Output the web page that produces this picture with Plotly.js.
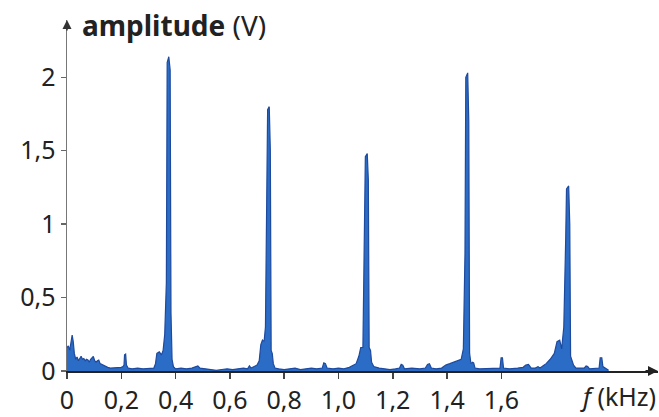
<!DOCTYPE html>
<html><head><meta charset="utf-8">
<script src="https://cdn.plot.ly/plotly-3.0.1.min.js"></script>
<style>html,body{margin:0;padding:0;background:#fff}#c{width:659px;height:417px}</style>
</head><body><div id="c"></div>
<script>
// frequency (kHz)
const freq = [
0.000,0.005,0.010,0.015,0.019,0.023,0.027,0.032,0.037,0.042,0.047,0.052,0.057,0.062,0.067,0.072,0.077,0.082,0.087,0.092,0.097,0.102,0.107,0.112,0.117,0.122,0.128,0.133,0.140,0.150,0.160,0.170,0.180,0.190,0.200,0.206,0.210,0.212,0.216,0.219,0.225,0.240,0.260,0.280,0.300,0.320,0.326,0.331,0.340,0.348,0.354,0.360,0.366,0.369,0.375,0.380,0.383,0.387,0.392,0.400,
0.420,0.440,0.460,0.475,0.482,0.490,0.510,0.530,0.550,0.570,0.590,0.610,0.630,0.650,0.665,0.672,0.678,0.690,0.700,0.708,0.714,0.720,0.726,0.731,0.736,0.739,0.745,0.749,0.752,0.756,0.760,0.766,0.780,0.800,0.820,0.840,0.860,0.880,0.900,0.920,0.940,0.946,0.952,0.958,0.980,1.000,1.020,1.040,1.055,1.065,1.075,1.082,1.090,1.095,1.099,1.106,1.110,1.113,1.118,1.122,1.130,1.150,1.170,1.190,1.210,1.225,1.231,1.237,1.243,1.270,1.300,1.320,1.328,1.335,1.342,1.360,1.380,1.395,1.410,1.425,1.440,1.452,1.460,1.466,1.469,1.476,1.480,1.483,1.488,1.494,1.498,1.503,1.520,1.550,1.580,1.595,1.599,1.604,1.608,1.630,1.660,1.680,1.690,1.700,1.710,1.725,1.735,1.742,1.750,1.765,1.780,1.795,1.805,1.815,1.822,1.830,1.837,1.840,1.848,1.852,1.855,1.860,1.866,1.875,1.890,1.905,1.912,1.918,1.925,1.945,1.960,1.964,1.970,1.974,1.985,1.995
];
// amplitude (V)
const amp = [
0.16,0.17,0.14,0.22,0.245,0.20,0.12,0.08,0.095,0.07,0.09,0.10,0.08,0.085,0.07,0.08,0.075,0.06,0.08,0.09,0.10,0.07,0.06,0.07,0.075,0.05,0.045,0.04,0.03,0.025,0.02,0.02,0.025,0.02,0.025,0.03,0.04,0.11,0.115,0.04,0.02,0.015,0.02,0.015,0.02,0.02,0.05,0.12,0.13,0.11,0.14,0.25,0.6,2.10,2.14,2.05,0.4,0.08,0.03,0.015,
0.02,0.015,0.02,0.03,0.035,0.02,0.015,0.01,0.005,0.01,0.015,0.01,0.015,0.02,0.015,0.035,0.02,0.03,0.04,0.07,0.18,0.21,0.20,0.30,1.0,1.78,1.80,1.5,0.14,0.12,0.05,0.02,0.015,0.01,0.015,0.02,0.01,0.015,0.02,0.015,0.02,0.055,0.05,0.02,0.015,0.02,0.015,0.025,0.04,0.05,0.10,0.16,0.16,1.0,1.46,1.48,1.3,0.16,0.14,0.06,0.03,0.02,0.015,0.01,0.015,0.02,0.045,0.04,0.015,0.02,0.015,0.02,0.045,0.05,0.02,0.015,0.02,0.04,0.05,0.06,0.075,0.08,0.15,0.8,2.00,2.03,1.7,0.12,0.05,0.06,0.055,0.02,0.015,0.015,0.02,0.02,0.09,0.09,0.02,0.015,0.02,0.025,0.04,0.045,0.02,0.02,0.03,0.02,0.03,0.05,0.08,0.12,0.20,0.21,0.15,0.30,0.9,1.24,1.26,1.0,0.10,0.07,0.04,0.02,0.02,0.02,0.035,0.03,0.015,0.015,0.02,0.09,0.09,0.03,0.015,0.005
];
const xTickVals = [0,0.2,0.4,0.6,0.8,1.0,1.2,1.4,1.6];
const xTickText = ["0","0,2","0,4","0,6","0,8","1,0","1,2","1,4","1,6"];
const yTickVals = [0,0.5,1,1.5,2];
const yTickText = ["0","0,5","1","1,5","2"];

const font = "Noto Sans, Open Sans, DejaVu Sans, sans-serif";
const trace = {
  x: freq, y: amp, type: 'scatter', mode: 'lines',
  fill: 'tozeroy', fillcolor: '#2b6cc6',
  line: {color: '#1e4a9e', width: 1.2},
  hoverinfo: 'skip'
};
const layout = {
  width: 659, height: 417,
  margin: {l: 67, r: 1, t: 20, b: 46},
  paper_bgcolor: '#fff', plot_bgcolor: '#fff',
  showlegend: false,
  font: {family: font, color: '#222', size: 25},
  xaxis: {
    range: [0, 2.177], showgrid: false, zeroline: false,
    showline: true, linecolor: '#222', linewidth: 2,
    ticks: 'outside', ticklen: 6, tickcolor: '#444', tickwidth: 1.5,
    tickvals: xTickVals, ticktext: xTickText,
    tickfont: {family: font, size: 25, color: '#222'}
  },
  yaxis: {
    range: [0, 2.39], showgrid: false, zeroline: false,
    showline: true, linecolor: '#777', linewidth: 1.5,
    ticks: 'outside', ticklen: 5, tickcolor: '#666', tickwidth: 1.5,
    tickvals: yTickVals, ticktext: yTickText,
    tickfont: {family: font, size: 25, color: '#222'}
  },
  annotations: [
    {xref: 'paper', yref: 'paper', x: 1, y: 0, ax: -14, ay: 0, text: '',
     showarrow: true, arrowhead: 2, arrowsize: 1, arrowwidth: 2, arrowcolor: '#222'},
    {xref: 'paper', yref: 'paper', x: 0, y: 1, ax: 0, ay: 12, text: '',
     showarrow: true, arrowhead: 2, arrowsize: 1.2, arrowwidth: 1.5, arrowcolor: '#333'},
    {xref: 'paper', yref: 'paper', x: 0.022, y: 0.985, xanchor: 'left', yanchor: 'middle',
     text: '<b>amplitude</b> (V)', showarrow: false, font: {family: font, size: 28, color: '#222'}},
    {xref: 'paper', yref: 'paper', x: 1.0, y: -0.07, xanchor: 'right', yanchor: 'middle',
     text: '<i>f</i> (kHz)', showarrow: false, font: {family: font, size: 25, color: '#222'}}
  ]
};
Plotly.newPlot('c', [trace], layout, {staticPlot: true, displayModeBar: false});
</script></body></html>
